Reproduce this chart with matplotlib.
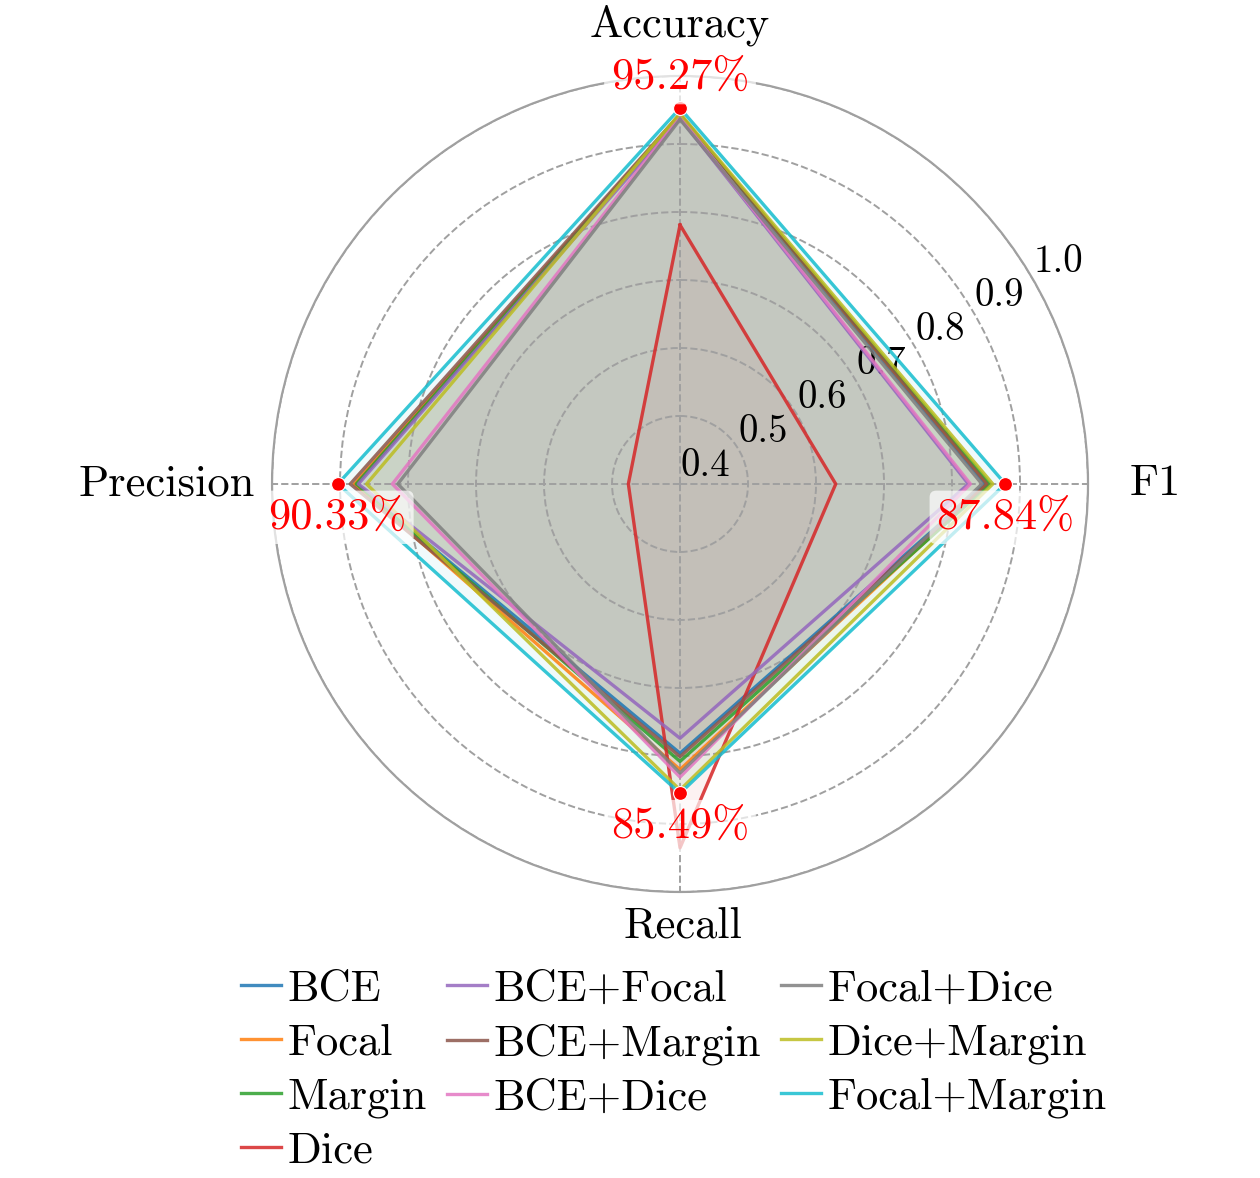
import numpy as np
import matplotlib.pyplot as plt

plt.rcParams['font.family'] = 'cmr10'
plt.rcParams['mathtext.fontset'] = 'cm'
plt.rcParams['axes.unicode_minus'] = False
plt.rcParams['axes.formatter.use_mathtext'] = True

# metrics go clockwise from the top
metrics = ['Accuracy', 'F1', 'Recall', 'Precision']
methods = ['BCE', 'Focal', 'Margin', 'Dice', 'BCE+Focal', 'BCE+Margin',
           'BCE+Dice', 'Focal+Dice', 'Dice+Margin', 'Focal+Margin']

# accuracy, f1, recall, precision
bce = [0.941, 0.849, 0.796, 0.877]
focal = [0.943, 0.852, 0.820, 0.879]
margin = [0.942, 0.856, 0.808, 0.876]
dice = [0.781, 0.629, 0.935, 0.476]
bce_focal = [0.938, 0.824, 0.774, 0.873]
bce_margin = [0.944, 0.851, 0.801, 0.885]
bce_dice = [0.940, 0.827, 0.831, 0.823]
focal_dice = [0.936, 0.844, 0.825, 0.815]
dice_margin = [0.945, 0.860, 0.850, 0.861]
focal_margin = [0.9527, 0.8784, 0.8549, 0.9033]

scores = [bce, focal, margin, dice, bce_focal, bce_margin,
          bce_dice, focal_dice, dice_margin, focal_margin]
best = focal_margin

rticks = [0.4, 0.5, 0.6, 0.7, 0.8, 0.9, 1.0]

angles = np.linspace(0, 2 * np.pi, len(metrics), endpoint=False)
closed = np.concatenate([angles, angles[:1]])

fig = plt.figure(figsize=(6.3, 5.89), dpi=200)
ax = fig.add_axes([0.2159, 0.2428, 0.6476, 0.6927], polar=True)
ax.set_theta_offset(np.pi / 2)
ax.set_theta_direction(-1)
ax.set_axisbelow(False)

colors = plt.cm.tab10.colors
for i, (name, vals) in enumerate(zip(methods, scores)):
    v = vals + vals[:1]
    ax.plot(closed, v, color=colors[i], lw=1.2, alpha=0.85, label=name, zorder=3)
    ax.fill(closed, v, color=colors[i], alpha=0.062, zorder=2)

# mark the best model's values
for a, v in zip(angles, best):
    ax.plot(a, v, 'o', color='red', ms=5, mec='white', mew=0.4, zorder=5)
    dy = 11 if np.isclose(a, 0) else -12
    ax.annotate('%.2f%%' % (v * 100), xy=(a, v), xytext=(0, dy),
                textcoords='offset points', ha='center', va='center',
                color='red', fontsize=16, zorder=6,
                bbox=dict(boxstyle='round,pad=0.15', fc='white', ec='none', alpha=0.7))

ax.set_ylim(0.4, 1.0)
ax.set_yticks(rticks)
ax.set_yticklabels(['%.1f' % t for t in rticks], fontsize=14)
ax.set_rlabel_position(60)
ax.set_xticks(angles)
ax.set_xticklabels([])
ax.grid(True, color='#a0a0a0', linestyle='--', lw=0.7)
ax.spines['polar'].set_color('#a0a0a0')
ax.spines['polar'].set_linewidth(0.8)

# category labels placed around the circle
label_pos = [(0.5, 1.062), (1.082, 0.5), (0.504, -0.042), (-0.129, 0.5)]
for name, (x, y) in zip(metrics, label_pos):
    ax.text(x, y, name, transform=ax.transAxes, ha='center', va='center', fontsize=16)

fig.legend(loc='upper center', bbox_to_anchor=(0.535, 0.211), ncol=3, frameon=False,
           fontsize=16, handlelength=0.9, handletextpad=0.15, columnspacing=0.45,
           labelspacing=0.31)

fig.savefig('out.png', dpi=200)
